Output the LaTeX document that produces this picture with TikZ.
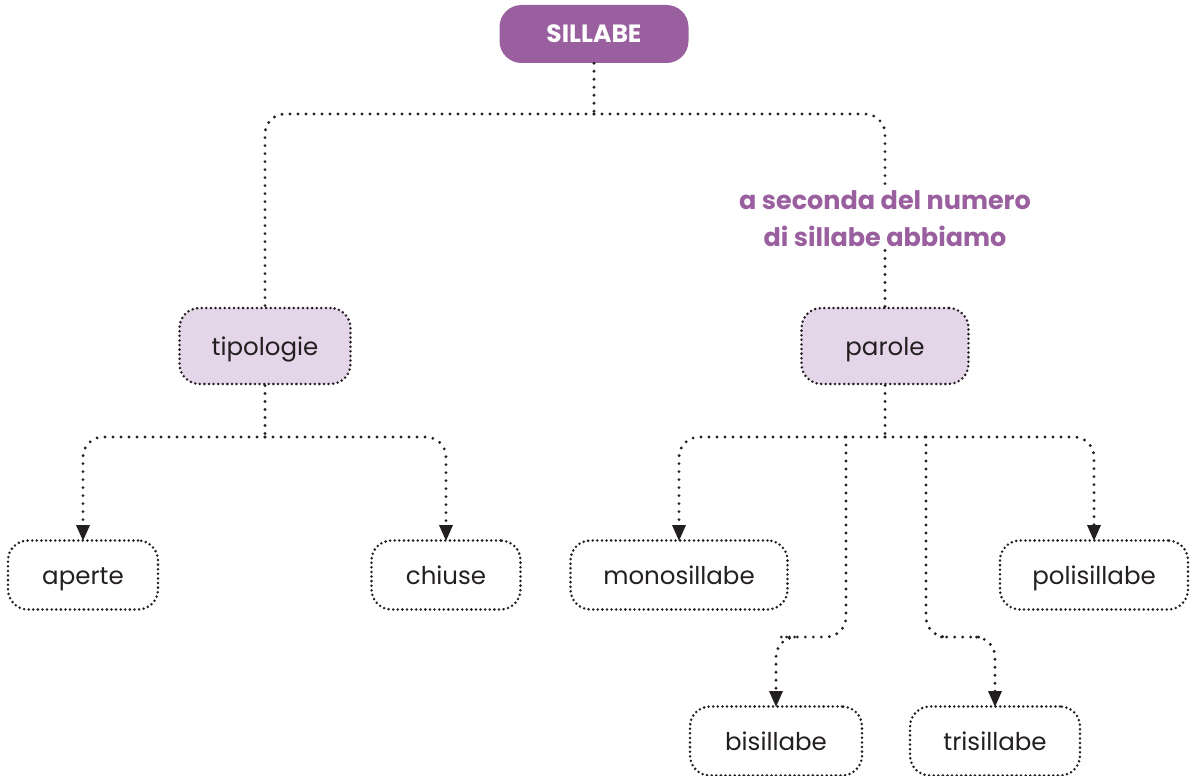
\documentclass[tikz,border=0pt]{standalone}
\usepackage{fontspec}
\setmainfont{Poppins}
\usetikzlibrary{arrows.meta}
\definecolor{viola}{HTML}{9A5F9E}
\definecolor{lilla}{HTML}{E4D6E8}
\definecolor{ink}{HTML}{231F20}
\tikzset{
  box/.style={rounded corners=20, line width=2.8, draw=ink, dash pattern=on 0pt off 4.6pt, line cap=round, font=\fontsize{24.5}{28}\selectfont, text=ink, minimum height=69, text height=20, text depth=2},
  filled/.style={box, fill=lilla, minimum height=76},
  root/.style={rounded corners=22, fill=viola, text=white, font=\fontsize{25}{28}\selectfont\bfseries, minimum width=189, minimum height=58, text height=18, text depth=1},
  conn/.style={line width=3.2, draw=ink, line cap=round, dash pattern=on 0pt off 8pt, rounded corners=20},
  arr/.style={conn, -{Triangle[width=13,length=16]}},
  lab/.style={text=viola, font=\fontsize{25.5}{37}\selectfont\bfseries, align=center}
}
\begin{document}
\begin{tikzpicture}[x=1pt,y=-1pt]
\useasboundingbox (0,0) rectangle (1191,776);
\node[root] (sillabe) at (594,34) {SILLABE};
\node[filled, minimum width=171] (tipologie) at (265,346) {tipologie};
\node[filled, minimum width=167] (parole) at (885,346) {parole};
\node[box, minimum width=150] (aperte) at (83,575) {aperte};
\node[box, minimum width=149] (chiuse) at (446,575) {chiuse};
\node[box, minimum width=217] (mono) at (679,575) {monosillabe};
\node[box, minimum width=188] (poli) at (1094,575) {polisillabe};
\node[box, minimum width=172] (bi) at (776,741) {bisillabe};
\node[box, minimum width=170] (tri) at (995,741) {trisillabe};
\node[lab] (nota) at (885,219) {a seconda del numero\\di sillabe abbiamo};
\coordinate (j1) at (594,114);
\coordinate (j2) at (265,437);
\coordinate (j3) at (885,437);
% top
\draw[conn] (sillabe.south) -- (j1);
\draw[conn] (j1) -| (tipologie.north);
\draw[conn] (j1) -| (nota.north);
\draw[conn] (nota.south) -- (parole.north);
% tipologie
\draw[conn] (tipologie.south) -- (j2);
\draw[arr] (j2) -| ([yshift=-2]aperte.north);
\draw[arr] (j2) -| ([yshift=-2]chiuse.north);
% parole
\draw[conn] (parole.south) -- (j3);
\draw[arr] (j3) -| ([yshift=-2]mono.north);
\draw[arr] (j3) -| ([yshift=-2]poli.north);
\draw[arr] (846,437) |- (800,637) -| ([yshift=-2]bi.north);
\draw[arr] (926,437) |- (960,637) -| ([yshift=-2]tri.north);
\end{tikzpicture}
\end{document}
